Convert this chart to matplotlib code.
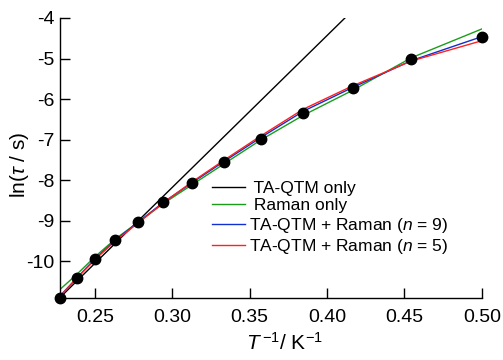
import matplotlib
matplotlib.use("Agg")
import matplotlib.pyplot as plt
from matplotlib.ticker import FormatStrFormatter

plt.rcParams["font.family"] = ["Liberation Sans", "DejaVu Sans"]
plt.rcParams["axes.unicode_minus"] = False
plt.rcParams["mathtext.fontset"] = "custom"
plt.rcParams["mathtext.it"] = "Liberation Sans:italic"
plt.rcParams["mathtext.rm"] = "Liberation Sans"

# measured points
inv_T = [0.2273, 0.2381, 0.25, 0.2632, 0.2778, 0.2941, 0.3125,
         0.3333, 0.3571, 0.3846, 0.4167, 0.4545, 0.5]
ln_tau = [-10.91, -10.42, -9.94, -9.48, -9.03, -8.55, -8.07,
          -7.55, -6.99, -6.35, -5.73, -5.00, -4.48]

# fit curves read at the same x positions
fit_raman = [-10.70, -10.33, -9.89, -9.45, -9.04, -8.58, -8.12,
             -7.60, -7.01, -6.40, -5.78, -4.98, -4.27]
fit_n9 = [-10.86, -10.42, -9.94, -9.48, -9.04, -8.55, -8.07,
          -7.54, -6.95, -6.30, -5.71, -5.05, -4.46]
fit_n5 = [-10.87, -10.43, -9.96, -9.50, -9.06, -8.56, -8.05,
          -7.51, -6.91, -6.25, -5.67, -5.06, -4.56]

# TA-QTM only is a straight line
qtm_x = [0.2273, 0.4115]
qtm_y = [-10.90, -4.0]

fig = plt.figure(figsize=(5.03, 3.6), dpi=100)
ax = fig.add_axes([0.119, 0.172, 0.839, 0.778])

ax.plot(qtm_x, qtm_y, color="black", lw=1, label=" TA-QTM only")
ax.plot(inv_T, fit_raman, color="#1a9e1a", lw=1, label=" Raman only")
ax.plot(inv_T, fit_n9, color="#1030d0", lw=1, label="TA-QTM + Raman ($n$ = 9)")
ax.plot(inv_T, fit_n5, color="#ff2020", lw=1, label="TA-QTM + Raman ($n$ = 5)")
ax.plot(inv_T, ln_tau, "o", color="black", ms=7.5, clip_on=False, zorder=5)

ax.set_xlim(0.2273, 0.5)
ax.set_ylim(-10.91, -4)
ax.set_xticks([0.25, 0.30, 0.35, 0.40, 0.45, 0.50])
ax.set_yticks([-10, -9, -8, -7, -6, -5, -4])
ax.xaxis.set_major_formatter(FormatStrFormatter("%.2f"))
ax.tick_params(direction="in", length=7, width=1, labelsize=14)
ax.tick_params(axis="x", pad=8)
ax.tick_params(axis="y", pad=4)

for s in ["top", "right"]:
    ax.spines[s].set_visible(False)
for s in ["left", "bottom"]:
    ax.spines[s].set_linewidth(1)

ax.set_xlabel("$T^{\\,\\mathrm{-1}}$/ K$^{\\mathrm{-1}}$", fontsize=15)
ax.set_ylabel("ln($\\tau$ / s)", fontsize=15)
ax.xaxis.set_label_coords(0.533, -0.12)
ax.yaxis.set_label_coords(-0.069, 0.475)

ax.legend(loc="upper left", bbox_to_anchor=(0.341, 0.45), frameon=False,
          fontsize=12.5, handlelength=1.9, handletextpad=0.2,
          labelspacing=0.14, borderpad=0)

fig.savefig("out.png", dpi=100)
